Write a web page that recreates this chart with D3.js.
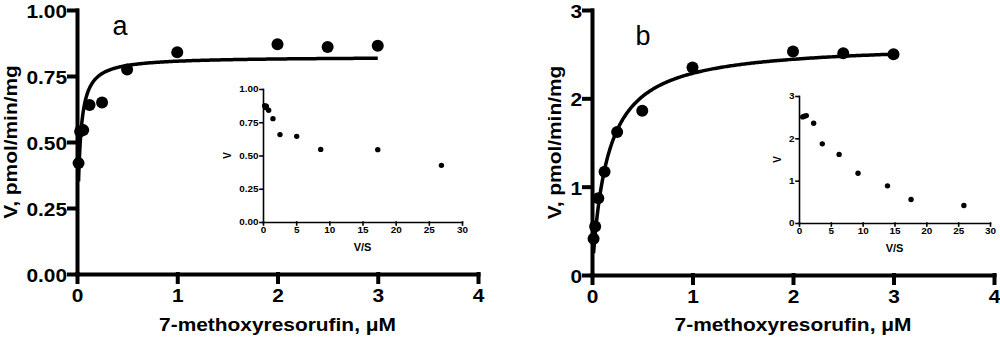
<!DOCTYPE html>
<html>
<head>
<meta charset="utf-8">
<script src="https://cdn.jsdelivr.net/npm/d3@7"></script>
<style>
body { margin: 0; background: #fff; }
svg { display: block; font-family: "Liberation Sans", Arial, sans-serif; }
.main .tick text { font-size: 19px; font-weight: bold; fill: #000; }
.inset .tick text { font-size: 9px; font-weight: bold; fill: #000; }
</style>
</head>
<body>
<svg class="chart"></svg>
<script>
var width = 1000;
var height = 340;
var stretch = "scale(1.1,1)"; // the source lettering is a bit wider than Liberation

// substrate concentrations, uM (same for both panels)
var conc = [0.0156, 0.03125, 0.0625, 0.125, 0.25, 0.5, 1, 2, 2.5, 3];

// panel a: velocity, pmol/min/mg
var velA = [0.42, 0.54, 0.545, 0.64, 0.65, 0.775, 0.84, 0.87, 0.86, 0.865];
// panel a inset (Eadie-Hofstee): V/S and V
var insetVSA = [26.9, 17.3, 8.7, 5.08, 2.56, 1.5, 0.85, 0.5, 0.38, 0.25];
var insetVA = [0.426, 0.544, 0.546, 0.644, 0.657, 0.777, 0.84, 0.87, 0.86, 0.875];

// panel b
var velB = [0.41, 0.55, 0.87, 1.17, 1.62, 1.86, 2.35, 2.53, 2.51, 2.50];
var insetVSB = [25.9, 17.6, 13.9, 9.27, 6.3, 3.66, 2.3, 1.15, 0.84, 0.58];
var insetVB = [0.415, 0.556, 0.877, 1.175, 1.62, 1.87, 2.357, 2.537, 2.52, 2.506];

// fitted Michaelis-Menten parameters for the curves
var fitA = { vmax: 0.823, km: 0.021 };
var fitB = { vmax: 2.625, km: 0.15 };

var xTicks = [0, 1, 2, 3, 4];
var yTicksA = [0, 0.25, 0.5, 0.75, 1];
var yTicksB = [0, 1, 2, 3];
var insetXTicks = [0, 5, 10, 15, 20, 25, 30];

var svg = d3.select(".chart")
    .attr("width", width)
    .attr("height", height);

function drawPanel(p) {
    var g = svg.append("g").attr("class", "main");

    var x = d3.scaleLinear().domain([0, 4]).range([p.left, p.right]);
    var y = d3.scaleLinear().domain([0, p.ymax]).range([p.bottom, p.top]);

    g.append("g")
        .attr("transform", "translate(0," + p.bottom + ")")
        .call(d3.axisBottom(x).tickValues(xTicks).tickSize(8).tickSizeOuter(0).tickPadding(7)
            .tickFormat(d3.format("d")))
        .selectAll(".tick text").attr("transform", stretch);

    g.append("g")
        .attr("transform", "translate(" + p.left + ",0)")
        .call(d3.axisLeft(y).tickValues(p.yTicks).tickSize(8).tickSizeOuter(0).tickPadding(1)
            .tickFormat(d3.format(p.yFmt)))
        .selectAll(".tick text").attr("transform", stretch).attr("dy", "0.4em");

    g.selectAll(".domain, .tick line")
        .attr("stroke", "#000")
        .attr("stroke-width", 4)
        .attr("stroke-linecap", "square");

    // fitted curve
    var curveX = d3.range(0, 301).map(function(i) {
        return conc[0] + (3 - conc[0]) * Math.pow(i / 300, 2);
    });
    var line = d3.line()
        .x(function(s) { return x(s); })
        .y(function(s) { return y(p.fit.vmax * s / (p.fit.km + s)); });
    g.append("path")
        .datum(curveX)
        .attr("d", line)
        .attr("fill", "none")
        .attr("stroke", "#000")
        .attr("stroke-width", 3.5);

    g.selectAll("circle.pt")
        .data(conc)
        .enter()
        .append("circle")
        .attr("class", "pt")
        .attr("cx", function(d) { return x(d); })
        .attr("cy", function(d, i) { return y(p.vel[i]); })
        .attr("r", 6)
        .attr("fill", "#000");

    g.append("text")
        .attr("transform", "translate(" + x(2) + ",331) " + stretch)
        .attr("text-anchor", "middle")
        .style("font-size", "19px")
        .style("font-weight", "bold")
        .text("7-methoxyresorufin, \u03bcM");

    g.append("text")
        .attr("transform", "translate(" + p.titleX + "," + ((p.top + p.bottom) / 2) + ") rotate(-90) " + stretch)
        .attr("text-anchor", "middle")
        .style("font-size", "19px")
        .style("font-weight", "bold")
        .text("V, pmol/min/mg");

    g.append("text")
        .attr("x", p.labelX)
        .attr("y", p.labelY)
        .attr("text-anchor", "middle")
        .style("font-size", "27px")
        .text(p.label);

    drawInset(p.inset);
}

function drawInset(q) {
    var g = svg.append("g").attr("class", "inset");

    var x = d3.scaleLinear().domain([0, 30]).range([q.left, q.right]);
    var y = d3.scaleLinear().domain([0, q.ymax]).range([q.bottom, q.top]);

    g.append("g")
        .attr("transform", "translate(0," + q.bottom + ")")
        .call(d3.axisBottom(x).tickValues(insetXTicks).tickSize(3).tickSizeOuter(0).tickPadding(2))
        .selectAll(".tick text").attr("transform", stretch);

    g.append("g")
        .attr("transform", "translate(" + q.left + ",0)")
        .call(d3.axisLeft(y).tickValues(q.yTicks).tickSize(3).tickSizeOuter(0).tickPadding(1)
            .tickFormat(d3.format(q.yFmt)))
        .selectAll(".tick text").attr("transform", stretch);

    g.selectAll(".domain, .tick line")
        .attr("stroke", "#000")
        .attr("stroke-width", 1.6)
        .attr("stroke-linecap", "square");

    g.selectAll("circle")
        .data(q.vs)
        .enter()
        .append("circle")
        .attr("cx", function(d) { return x(d); })
        .attr("cy", function(d, i) { return y(q.v[i]); })
        .attr("r", 2.7)
        .attr("fill", "#000");

    g.append("text")
        .attr("transform", "translate(" + ((q.left + q.right) / 2) + "," + (q.bottom + 29) + ") " + stretch)
        .attr("text-anchor", "middle")
        .style("font-size", "10px")
        .style("font-weight", "bold")
        .text("V/S");

    g.append("text")
        .attr("transform", "translate(" + q.titleX + "," + ((q.top + q.bottom) / 2) + ") rotate(-90)")
        .attr("text-anchor", "middle")
        .style("font-size", "10px")
        .style("font-weight", "bold")
        .text("V");
}

drawPanel({
    left: 77, right: 478, top: 10, bottom: 274,
    ymax: 1, yTicks: yTicksA, yFmt: ".2f",
    vel: velA, fit: fitA,
    titleX: 17, label: "a", labelX: 120, labelY: 35,
    inset: {
        left: 263, right: 462, top: 89, bottom: 222,
        ymax: 1, yTicks: yTicksA, yFmt: ".2f",
        vs: insetVSA, v: insetVA, titleX: 231
    }
});

drawPanel({
    left: 592, right: 994, top: 10, bottom: 275,
    ymax: 3, yTicks: yTicksB, yFmt: "d",
    vel: velB, fit: fitB,
    titleX: 561, label: "b", labelX: 643, labelY: 45,
    inset: {
        left: 799, right: 990, top: 96, bottom: 223,
        ymax: 3, yTicks: yTicksB, yFmt: "d",
        vs: insetVSB, v: insetVB, titleX: 781
    }
});
</script>
</body>
</html>
